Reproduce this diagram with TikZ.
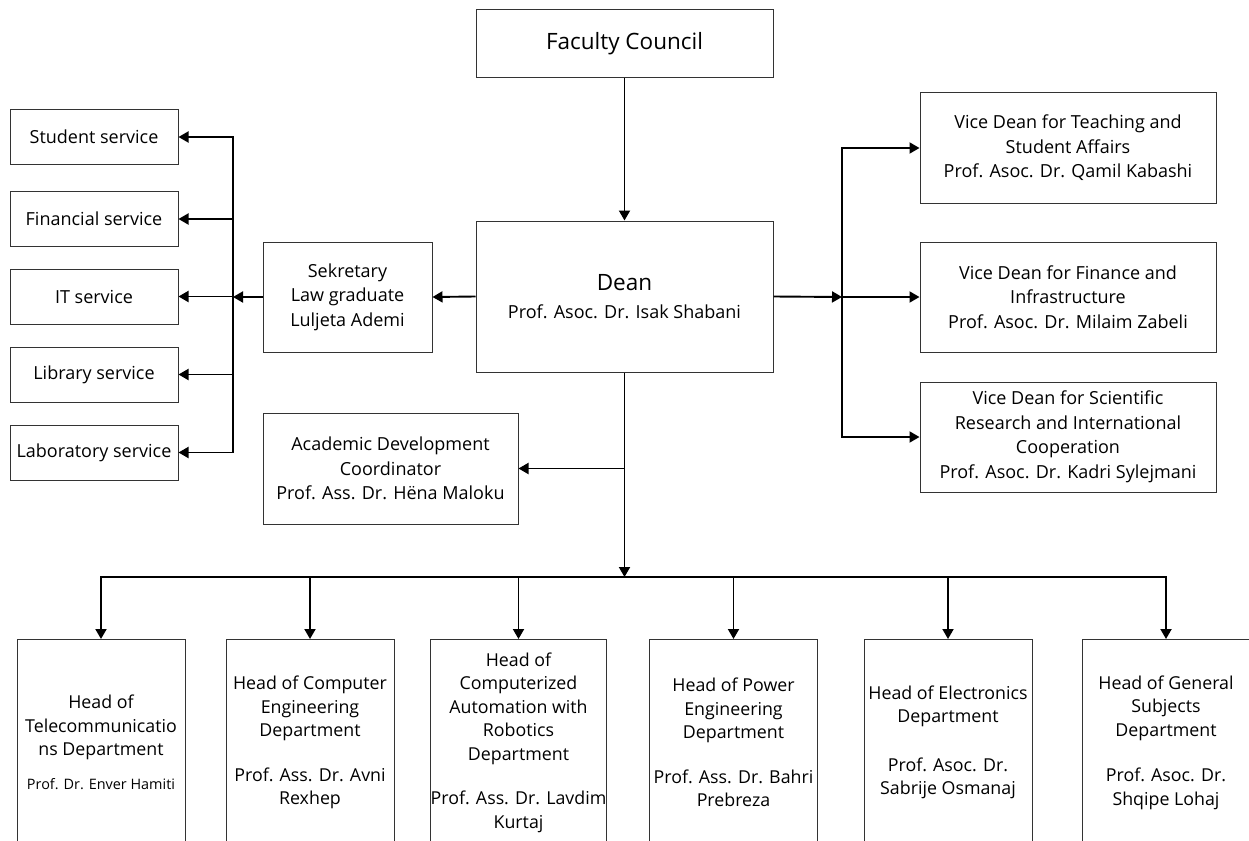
\documentclass[tikz,border=0pt]{standalone}
\usepackage{fontspec}
\setmainfont{Open Sans}
\usetikzlibrary{arrows.meta}
\newcommand{\fsn}{\fontsize{18}{24.5}\selectfont}
\newcommand{\fsb}{\fontsize{17.8}{23.5}\selectfont}
\newcommand{\fsl}{\fontsize{22.5}{30}\selectfont}
\newcommand{\fss}{\fontsize{14.4}{18}\selectfont}
\begin{document}
\begin{tikzpicture}[x=1pt,y=-1pt,
  box/.style={draw=black!80, line width=1pt, align=center, inner sep=0pt, font=\fsn},
  svc/.style={box, minimum width=168pt, minimum height=55pt},
  vice/.style={box, minimum width=296pt, minimum height=110pt},
  dept/.style={box, font=\fsb, minimum width=168pt, minimum height=206pt, anchor=north},
  conn/.style={line width=1.9pt, line cap=rect},
  arr/.style={line width=1.9pt, -{Triangle[length=10pt,width=11pt]}}]
\useasboundingbox (0,0) rectangle (1249,840);
\fill[white] (0,0) rectangle (1249,840);
\clip (0,0) rectangle (1249,840);

% top
\node[box, font=\fsl, minimum width=297pt, minimum height=68pt] (fc) at (624.5,44) {Faculty Council};
\node[box, minimum width=297pt, minimum height=151pt] (dean) at (624.5,296.5) {{\fsl Dean}\\[4pt]Prof. Asoc. Dr. Isak Shabani};

% services
\node[svc] (s1) at (94,137) {Student service};
\node[svc] (s2) at (94,219) {Financial service};
\node[svc] (s3) at (94,296.5) {IT service};
\node[svc] (s4) at (94,374.5) {Library service};
\node[svc] (s5) at (94,452.5) {Laboratory service};

\node[box, minimum width=169pt, minimum height=110pt] (sek) at (347.5,297) {Sekretary\\Law graduate\\Luljeta Ademi};
\node[box, minimum width=255pt, minimum height=111pt] (adc) at (390.5,468.5) {Academic Development\\Coordinator\\Prof. Ass. Dr. H\"ena Maloku};

% vice deans
\node[vice] (vd1) at (1068,148) {Vice Dean for Teaching and\\Student Affairs\\Prof. Asoc. Dr. Qamil Kabashi};
\node[vice] (vd2) at (1068,297) {Vice Dean for Finance and\\Infrastructure\\Prof. Asoc. Dr. Milaim Zabeli};
\node[vice] (vd3) at (1068,437) {Vice Dean for Scientific\\Research and International\\Cooperation\\Prof. Asoc. Dr. Kadri Sylejmani};

% departments
\node[dept] (d1) at (101,639) {Head of\\Telecommunicatio\\ns Department\\[10pt]{\fss Prof. Dr. Enver Hamiti}};
\node[dept] (d2) at (310,639) {Head of Computer\\Engineering\\Department\\[21pt]Prof. Ass. Dr. Avni\\Rexhep};
\node[dept] (d3) at (518.5,639) {Head of\\Computerized\\Automation with\\Robotics\\Department\\[21pt]Prof. Ass. Dr. Lavdim\\Kurtaj};
\node[dept] (d4) at (733.5,639) {Head of Power\\Engineering\\Department\\[21pt]Prof. Ass. Dr. Bahri\\Prebreza};
\node[dept] (d5) at (948,639) {Head of Electronics\\Department\\[25pt]Prof. Asoc. Dr.\\Sabrije Osmanaj};
\node[dept] (d6) at (1166,639) {Head of General\\Subjects\\Department\\[22pt]Prof. Asoc. Dr.\\Shqipe Lohaj};

% connectors
\draw[arr] (fc) -- (dean);
\draw[arr] (dean.west) -- (sek.east);
\coordinate (lb) at (233,297);
\draw[arr] (sek.west) -- (lb);
\draw[conn] (lb |- s1.east) -- (lb |- s5.east);
\draw[arr] (lb |- s1.east) -- (s1.east);
\draw[arr] (lb |- s2.east) -- (s2.east);
\draw[arr] (lb |- s3.east) -- (s3.east);
\draw[arr] (lb |- s4.east) -- (s4.east);
\draw[arr] (lb |- s5.east) -- (s5.east);

\coordinate (rb) at (842,297);
\draw[arr] (dean.east) -- (rb);
\draw[conn] (rb |- vd1.west) -- (rb |- vd3.west);
\draw[arr] (rb |- vd1.west) -- (vd1.west);
\draw[arr] (rb |- vd2.west) -- (vd2.west);
\draw[arr] (rb |- vd3.west) -- (vd3.west);

\coordinate (bb) at (624.5,577);
\draw[arr] (dean.south) -- (bb);
\draw[arr] (dean.south |- adc.east) -- (adc.east);
\draw[conn] (d1.north |- bb) -- (d6.north |- bb);
\draw[arr] (d1.north |- bb) -- (d1.north);
\draw[arr] (d2.north |- bb) -- (d2.north);
\draw[arr] (d3.north |- bb) -- (d3.north);
\draw[arr] (d4.north |- bb) -- (d4.north);
\draw[arr] (d5.north |- bb) -- (d5.north);
\draw[arr] (d6.north |- bb) -- (d6.north);
\end{tikzpicture}
\end{document}
